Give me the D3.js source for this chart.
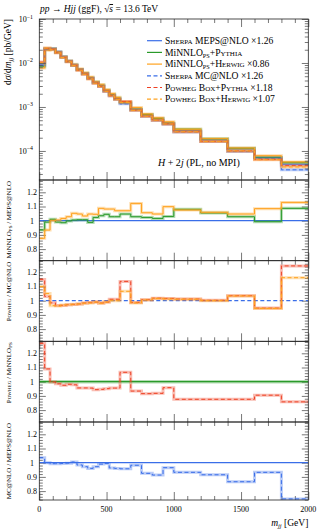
<!DOCTYPE html>
<html><head><meta charset="utf-8">
<script src="https://cdn.jsdelivr.net/npm/d3@7"></script>
<style>
body{margin:0;background:#fff}
text{font-family:"Liberation Serif","DejaVu Serif",serif;fill:#000}
.sc{font-variant:small-caps}
</style></head><body>
<svg id="c" width="319" height="530"></svg>
<script>
// ---------- data ----------
const binEdges = [0,40,80,120,160,200,240,280,320,360,400,440,480,520,560,600,680,760,840,920,1000,1200,1400,1600,1800,2000];
// Sherpa MEPS@NLO x1.26 [pb/GeV]
const mepsXsec = [8.8e-3,0.0209,0.0209,0.0178,0.0138,0.0110,0.0089,0.0071,0.0058,0.0046,0.0036,0.0030,0.0023,0.00186,0.00155,0.00123,8.7e-4,6.6e-4,5.4e-4,4.2e-4,2.9e-4,1.8e-4,1.12e-4,7.2e-5,5.0e-5];
// MiNNLO_PS / MEPS@NLO
const minnloPythiaOverMeps = [0.935,0.99,1.01,0.99,0.986,0.998,1.005,1.007,1.007,0.988,1.023,1.035,1.045,1.028,1.028,1.047,1.028,1.023,1.016,1.03,1.08,1.054,1.028,0.993,1.087];
const minnloHerwigOverMeps = [0.876,0.934,1.0,1.005,1.016,1.028,1.052,1.047,1.033,1.047,1.045,1.087,1.082,1.082,1.07,1.07,1.122,1.056,1.047,1.099,1.075,1.059,1.047,1.085,1.129];
// Powheg / MC@NLO
const powhegPythiaOverMcatnlo = [1.15,1.03,0.985,0.967,0.967,0.972,0.974,0.977,0.984,0.988,0.99,0.984,0.99,1.01,1.01,1.136,0.988,1.007,1.018,1.016,1.012,1.003,1.035,0.948,1.245];
const powhegHerwigOverMcatnlo = [1.1,1.05,0.965,0.962,0.97,0.972,0.975,0.977,0.982,0.984,0.99,0.982,0.99,1.0,1.0,1.066,0.984,1.005,1.015,1.012,1.01,1.0,1.033,0.945,1.162];
// Powheg / MiNNLO_PS
const powhegOverMinnlo = [1.27,1.09,0.998,0.985,0.975,0.982,0.978,0.956,0.956,0.955,0.944,0.946,0.951,0.955,0.955,1.066,0.934,0.916,0.918,0.958,0.876,0.876,0.876,0.905,0.858];
// MC@NLO / MEPS@NLO
const mcatnloOverMeps = [1.035,1.0,0.993,0.993,0.995,0.997,1.005,0.984,0.972,0.96,0.972,0.99,0.995,0.963,0.96,0.957,0.982,0.925,0.913,0.965,0.932,0.915,0.866,0.932,0.745];

const xTickLabels = [0,500,1000,1500,2000];
const ratioTickLabels = [0.8,0.9,1,1.1,1.2];
const logTickLabels = [-4,-3,-2,-1];

// ---------- colours / styles ----------
const C = {blue:"#3a6ee8", green:"#2a9a2a", orange:"#ffa21f", red:"#ee4124"};
const DASH = "4,2.5";

// derived main-panel series (reference x read ratios)
const mcatnloXsec = mepsXsec.map((v,i)=>v*mcatnloOverMeps[i]);
const series = [
  {name:"meps", vals:mepsXsec, color:C.blue, dash:null},
  {name:"minnloPy", vals:mepsXsec.map((v,i)=>v*minnloPythiaOverMeps[i]), color:C.green, dash:null},
  {name:"minnloHw", vals:mepsXsec.map((v,i)=>v*minnloHerwigOverMeps[i]), color:C.orange, dash:null},
  {name:"mcatnlo", vals:mcatnloXsec, color:C.blue, dash:DASH},
  {name:"powhegPy", vals:mcatnloXsec.map((v,i)=>v*powhegPythiaOverMcatnlo[i]), color:C.red, dash:DASH},
  {name:"powhegHw", vals:mcatnloXsec.map((v,i)=>v*powhegHerwigOverMcatnlo[i]), color:C.orange, dash:DASH}
];

// ---------- layout ----------
const svg = d3.select("#c");
const L = 39.3, R = 308.3;
const x = d3.scaleLinear([0,2000],[L,R]);
const mainTop = 19, mainBot = 180;
const yMain = d3.scaleLog([Math.pow(10,-4.66),0.1],[mainBot,mainTop]);

const panels = [
  {top:180,   bot:260.7, one:220.7},
  {top:260.7, bot:341.3, one:300.7},
  {top:341.3, bot:422,   one:381.7},
  {top:422,   bot:500,   one:462.7}
];
const pxPerUnit = 142;
panels.forEach(p=>{
  p.y = d3.scaleLinear([1-(p.bot-p.one)/pxPerUnit, 1+(p.one-p.top)/pxPerUnit],[p.bot,p.top]);
});

function stepPath(vals, y){
  const pts = vals.map((v,i)=>[binEdges[i],v]);
  pts.push([binEdges[binEdges.length-1], vals[vals.length-1]]);
  return d3.line().x(d=>x(d[0])).y(d=>y(d[1])).curve(d3.curveStepAfter)(pts);
}
function drawStep(g, vals, y, color, dash, w){
  g.append("path").attr("d",stepPath(vals,y)).attr("fill","none")
    .attr("stroke",color).attr("stroke-opacity",0.35).attr("stroke-width",3);
  g.append("path").attr("d",stepPath(vals,y)).attr("fill","none")
    .attr("stroke",color).attr("stroke-width",w||1)
    .attr("stroke-dasharray",dash);
}

const defs = svg.append("defs");
function clip(id,top,bot){
  defs.append("clipPath").attr("id",id).append("rect")
    .attr("x",L).attr("y",top).attr("width",R-L).attr("height",bot-top);
  return "url(#"+id+")";
}

// ---------- frames & ticks ----------
const tickCol = "#555";
function xTicks(g, yTop, yBot){
  const major = d3.range(0,2001,500), minor = d3.range(0,2001,100).filter(v=>v%500);
  g.append("g").attr("transform",`translate(0,${yBot})`)
    .call(d3.axisBottom(x).tickValues(major).tickSize(-8).tickFormat(""));
  g.append("g").attr("transform",`translate(0,${yBot})`)
    .call(d3.axisBottom(x).tickValues(minor).tickSize(-4).tickFormat(""));
  g.append("g").attr("transform",`translate(0,${yTop})`)
    .call(d3.axisTop(x).tickValues(major).tickSize(-8).tickFormat(""));
  g.append("g").attr("transform",`translate(0,${yTop})`)
    .call(d3.axisTop(x).tickValues(minor).tickSize(-4).tickFormat(""));
}
function yTicksBoth(g, y, major, minor, majLen, minLen){
  g.append("g").attr("transform",`translate(${L},0)`).call(d3.axisLeft(y).tickValues(major).tickSize(-majLen).tickFormat(""));
  g.append("g").attr("transform",`translate(${L},0)`).call(d3.axisLeft(y).tickValues(minor).tickSize(-minLen).tickFormat(""));
  g.append("g").attr("transform",`translate(${R},0)`).call(d3.axisRight(y).tickValues(major).tickSize(-majLen).tickFormat(""));
  g.append("g").attr("transform",`translate(${R},0)`).call(d3.axisRight(y).tickValues(minor).tickSize(-minLen).tickFormat(""));
}

// main panel
const gMain = svg.append("g");
const cMain = clip("cm", mainTop, mainBot);
const gLines = gMain.append("g").attr("clip-path",cMain);
series.forEach(s=>drawStep(gLines, s.vals, yMain, s.color, s.dash));

const gAx = svg.append("g").attr("class","axes");
xTicks(gAx, mainTop, mainBot);
const majLog = logTickLabels.map(e=>Math.pow(10,e));
const minLog = [];
[-5,-4,-3,-2].forEach(e=>{for(let k=2;k<10;k++){const v=k*Math.pow(10,e); if(v>=yMain.domain()[0]&&v<=0.1) minLog.push(v);}});
yTicksBoth(gAx, yMain, majLog, minLog, 6.5, 3.5);
logTickLabels.forEach(e=>{
  const t = gAx.append("text").attr("x",33).attr("y",yMain(Math.pow(10,e))+3)
    .attr("text-anchor","end").attr("font-size",8);
  t.append("tspan").text("10");
  t.append("tspan").attr("dy",-3.5).attr("font-size",5.8).text("\u2212"+(-e));
});

// ratio panels
const ratioDefs = [
  {ref:{c:C.blue,d:null}, lines:[{v:minnloPythiaOverMeps,c:C.green,d:null},{v:minnloHerwigOverMeps,c:C.orange,d:null}]},
  {ref:{c:C.blue,d:DASH}, lines:[{v:powhegPythiaOverMcatnlo,c:C.red,d:DASH},{v:powhegHerwigOverMcatnlo,c:C.orange,d:DASH}]},
  {ref:{c:C.green,d:null}, lines:[{v:powhegOverMinnlo,c:C.red,d:DASH}]},
  {ref:{c:C.blue,d:null}, lines:[{v:mcatnloOverMeps,c:C.blue,d:DASH}]}
];
const ratioMinor = d3.range(0.70,1.301,0.02).map(v=>+v.toFixed(2)).filter(v=>Math.abs(v*10-Math.round(v*10))>1e-6);
panels.forEach((p,i)=>{
  const g = svg.append("g").attr("clip-path",clip("cr"+i,p.top,p.bot));
  const rd = ratioDefs[i];
  g.append("line").attr("x1",L).attr("x2",R).attr("y1",p.y(1)).attr("y2",p.y(1))
    .attr("stroke",rd.ref.c).attr("stroke-width",1.2).attr("stroke-dasharray",rd.ref.d);
  if(i===2) g.append("line").attr("x1",L).attr("x2",R).attr("y1",p.y(1)).attr("y2",p.y(1))
    .attr("stroke",rd.ref.c).attr("stroke-opacity",0.35).attr("stroke-width",3.5);
  rd.lines.forEach(l=>drawStep(g,l.v,p.y,l.c,l.d));
  xTicks(gAx, p.top, p.bot);
  yTicksBoth(gAx, p.y, ratioTickLabels.filter(v=>v>=p.y.domain()[0]), ratioMinor.filter(v=>v>=p.y.domain()[0]&&v<=p.y.domain()[1]), 6.5, 3.5);
  ratioTickLabels.forEach(v=>{
    if(v<p.y.domain()[0]) return;
    gAx.append("text").attr("x",v===1?34:37).attr("y",p.y(v)+2.8)
      .attr("text-anchor","end").attr("font-size",8).text(v===1?"1":v.toFixed(1));
  });
});
gAx.selectAll(".domain").remove();
gAx.selectAll(".tick line").attr("stroke",tickCol).attr("stroke-width",0.8);

// frames
[{top:mainTop,bot:mainBot},...panels].forEach(p=>{
  svg.append("rect").attr("x",L).attr("y",p.top).attr("width",R-L).attr("height",p.bot-p.top)
    .attr("fill","none").attr("stroke","#222").attr("stroke-width",0.8);
});

// x tick labels
xTickLabels.forEach(v=>{
  svg.append("text").attr("x",x(v)).attr("y",512).attr("text-anchor","middle").attr("font-size",8).text(v);
});
// x axis title
const xt = svg.append("text").attr("x",R).attr("y",526).attr("text-anchor","end").attr("font-size",9.5);
xt.append("tspan").attr("font-style","italic").text("m");
xt.append("tspan").attr("font-style","italic").attr("font-size",6.5).attr("dy",2).text("jj");
xt.append("tspan").attr("dy",-2).text(" [GeV]");

// y axis title main
const yt = svg.append("text").attr("transform",`translate(11,${mainTop}) rotate(-90)`).attr("text-anchor","end").attr("font-size",9.5);
yt.append("tspan").text("d");
yt.append("tspan").attr("font-style","italic").text("\u03c3");
yt.append("tspan").text("/d");
yt.append("tspan").attr("font-style","italic").text("m");
yt.append("tspan").attr("font-style","italic").attr("font-size",6.5).attr("dy",2).text("jj");
yt.append("tspan").attr("dy",-2).text(" [pb/GeV]");

// ratio titles
const ratioTitles = [
  [["MiNNLO",0],["PS",1],[" / MEPS@NLO",0]],
  [["Powheg / MC@NLO",0]],
  [["Powheg / MiNNLO",0],["PS",1]],
  [["MC@NLO / MEPS@NLO",0]]
];
panels.forEach((p,i)=>{
  const t = svg.append("text").attr("transform",`translate(11,${p.top+1}) rotate(-90)`)
    .attr("text-anchor","end").attr("font-size",7).attr("class","sc");
  let sub=false;
  ratioTitles[i].forEach(([s,isSub])=>{
    const ts = t.append("tspan").text(s);
    if(isSub){ts.attr("font-size",5).attr("dy",1.4);sub=true;}
    else if(sub){ts.attr("dy",-1.4);sub=false;}
  });
});

// title
const tt = svg.append("text").attr("x",40).attr("y",12).attr("font-size",9.5);
tt.append("tspan").attr("font-style","italic").text("pp");
tt.append("tspan").text(" \u2192 ");
tt.append("tspan").attr("font-style","italic").text("Hjj");
tt.append("tspan").text(" (ggF), \u221a");
tt.append("tspan").attr("font-style","italic").attr("text-decoration","overline").text("s");
tt.append("tspan").text(" = 13.6 TeV");

// process label
const pl = svg.append("text").attr("x",158).attr("y",166).attr("font-size",10);
pl.append("tspan").attr("font-style","italic").text("H");
pl.append("tspan").text(" + 2");
pl.append("tspan").attr("font-style","italic").text("j");
pl.append("tspan").text(" (PL, no MPI)");

// legend
const legendEntries = [
  {parts:[["Sherpa","sc"],[" MEPS@NLO \u00d71.26",""]], c:C.blue, d:null},
  {parts:[["MiNNLO",""],["PS","sub"],["+",""],["Pythia","sc"]], c:C.green, d:null},
  {parts:[["MiNNLO",""],["PS","sub"],["+",""],["Herwig","sc"],[" \u00d70.86",""]], c:C.orange, d:null},
  {parts:[["Sherpa","sc"],[" MC@NLO \u00d71.26",""]], c:C.blue, d:DASH},
  {parts:[["Powheg Box","sc"],["+",""],["Pythia","sc"],[" \u00d71.18",""]], c:C.red, d:DASH},
  {parts:[["Powheg Box","sc"],["+",""],["Herwig","sc"],[" \u00d71.07",""]], c:C.orange, d:DASH}
];
legendEntries.forEach((e,i)=>{
  const yy = 40.7 + i*11.7;
  svg.append("line").attr("x1",147).attr("x2",162).attr("y1",yy).attr("y2",yy)
    .attr("stroke",e.c).attr("stroke-width",1.2).attr("stroke-dasharray",e.d);
  const t = svg.append("text").attr("x",165).attr("y",yy+3.2).attr("font-size",9.6);
  let sub=false;
  e.parts.forEach(([s,k])=>{
    const ts=t.append("tspan").text(s);
    if(k==="sc") ts.attr("class","sc");
    if(k==="sub"){ts.attr("font-size",6.2).attr("dy",2);sub=true;}
    else if(sub){ts.attr("dy",-2);sub=false;}
  });
});
</script></body></html>
